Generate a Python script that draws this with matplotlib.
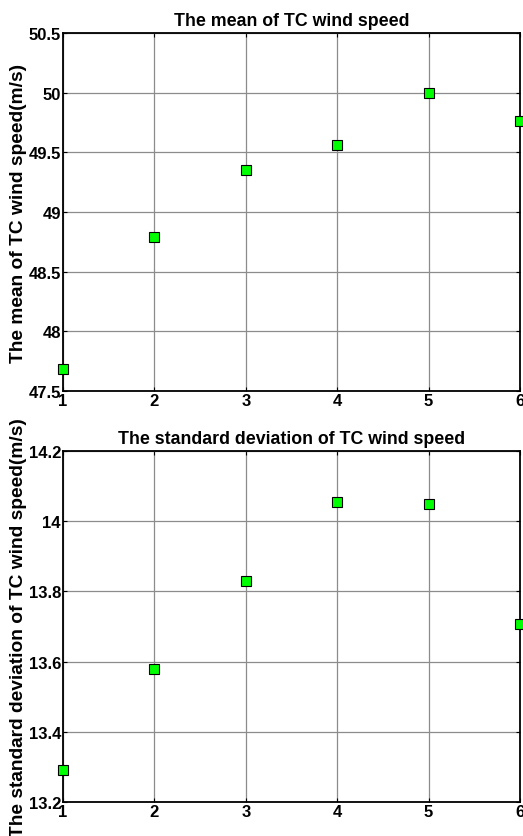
import numpy as np
import matplotlib.pyplot as plt

plt.rcParams['font.family'] = ['Liberation Sans', 'DejaVu Sans']
plt.rcParams['font.weight'] = 'bold'

# case index vs. TC wind speed statistics
cases = [1, 2, 3, 4, 5, 6]
mean_speed = [47.68, 48.79, 49.35, 49.56, 50.00, 49.76]
std_speed = [13.292, 13.579, 13.830, 14.055, 14.049, 13.707]

mean_ticks = [47.5, 48, 48.5, 49, 49.5, 50, 50.5]
mean_ticklabels = ['47.5', '48', '48.5', '49', '49.5', '50', '50.5']
std_ticks = [13.2, 13.4, 13.6, 13.8, 14.0, 14.2]
std_ticklabels = ['13.2', '13.4', '13.6', '13.8', '14', '14.2']

panels = [
    ('The mean of TC wind speed', 'The mean of TC wind speed(m/s)',
     mean_speed, mean_ticks, mean_ticklabels, [0.1205, 0.5317, 0.8738, 0.4277]),
    ('The standard deviation of TC wind speed', 'The standard deviation of TC wind speed(m/s)',
     std_speed, std_ticks, std_ticklabels, [0.1205, 0.0406, 0.8738, 0.4194]),
]

fig = plt.figure(figsize=(5.23, 8.37), dpi=100)

for title, ylabel, values, yticks, yticklabels, rect in panels:
    ax = fig.add_axes(rect)
    ax.plot(cases, values, linestyle='none', marker='s', markersize=7.5,
            markerfacecolor='#00ff00', markeredgecolor='black', markeredgewidth=0.8,
            clip_on=False, zorder=5)
    ax.set_xlim(1, 6)
    ax.set_ylim(yticks[0], yticks[-1])
    ax.set_xticks(cases)
    ax.set_yticks(yticks)
    ax.set_yticklabels(yticklabels)
    ax.grid(True, color='#8c8c8c', linewidth=0.9, linestyle='-')
    ax.set_axisbelow(True)
    ax.tick_params(direction='in', length=3, width=0.8, labelsize=12, pad=1.5,
                   top=True, right=True)
    for spine in ax.spines.values():
        spine.set_linewidth(1.3)
    ax.set_title(title, fontsize=12.8, fontweight='bold', pad=6)
    ax.set_ylabel(ylabel, fontsize=13.8, fontweight='bold', labelpad=1)

fig.savefig('out.png', dpi=100)
